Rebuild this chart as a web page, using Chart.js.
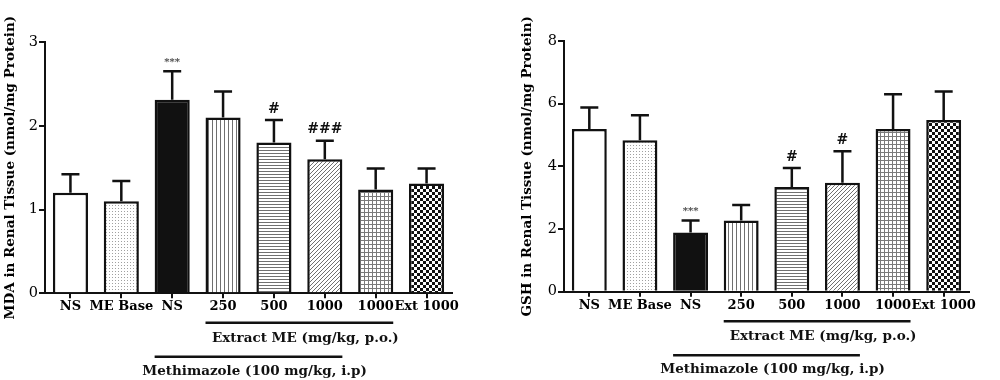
<!DOCTYPE html>
<html><head><meta charset="utf-8">
<script src="https://cdn.jsdelivr.net/npm/chart.js@4.4.1/dist/chart.umd.min.js"></script>
<style>
html,body{margin:0;padding:0;background:#fff;}
#wrap{position:relative;width:1000px;height:380px;overflow:hidden;}
.box{position:absolute;top:0;width:500px;height:380px;}
</style></head><body>
<div id="wrap">
<div class="box" style="left:0"><canvas id="c1"></canvas></div>
<div class="box" style="left:500px"><canvas id="c2"></canvas></div>
</div>
<script>
// ---- data ----
const categories = ["NS", "ME Base", "NS", "250", "500", "1000", "1000", "Ext 1000"];
const mdaValues = [1.20, 1.10, 2.31, 2.10, 1.80, 1.60, 1.24, 1.31];
const mdaErrors = [0.22, 0.24, 0.34, 0.31, 0.27, 0.22, 0.25, 0.18];
const mdaMarks = ["", "", "***", "", "#", "###", "", ""];
const mdaTicks = [0, 1, 2, 3];
const gshValues = [5.19, 4.83, 1.89, 2.27, 3.34, 3.48, 5.19, 5.48];
const gshErrors = [0.69, 0.80, 0.38, 0.50, 0.61, 1.00, 1.11, 0.91];
const gshMarks = ["", "", "***", "", "#", "#", "", ""];
const gshTicks = [0, 2, 4, 6, 8];
const mdaTitle = "MDA in Renal Tissue (nmol/mg Protein)";
const gshTitle = "GSH in Renal Tissue (nmol/mg Protein)";
const extractLabel = "Extract ME (mg/kg, p.o.)";
const methimazoleLabel = "Methimazole (100 mg/kg, i.p)";
const patternKinds = ["white", "dots", "black", "vlines", "hlines", "diag", "grid", "checker"];

const SERIF = "'DejaVu Serif', serif";
const INK = '#111111';

function makePattern(kind) {
  if (kind === 'white') return '#ffffff';
  if (kind === 'black') return INK;
  const c = document.createElement('canvas');
  const x = c.getContext('2d');
  let w = 4, h = 4;
  if (kind === 'dots') { w = h = 3; }
  if (kind === 'hlines') { w = 4; h = 3; }
  if (kind === 'checker') { w = h = 6; }
  c.width = w; c.height = h;
  x.fillStyle = '#ffffff'; x.fillRect(0, 0, w, h);
  switch (kind) {
    case 'dots': x.fillStyle = '#a0a0a0'; x.fillRect(1, 1, 1, 1); break;
    case 'vlines': x.fillStyle = '#707070'; x.fillRect(0, 0, 1, h); break;
    case 'hlines': x.fillStyle = '#707070'; x.fillRect(0, 0, w, 1); break;
    case 'diag': x.fillStyle = '#707070'; for (let i = 0; i < 4; i++) x.fillRect(i, 3 - i, 1, 1); break;
    case 'grid': x.fillStyle = '#7a7a7a'; x.fillRect(0, 0, w, 1); x.fillRect(0, 0, 1, h); break;
    case 'checker': x.fillStyle = INK; x.fillRect(0, 0, 3, 3); x.fillRect(3, 3, 3, 3); break;
  }
  return x.createPattern(c, 'repeat');
}

const decorPlugin = {
  id: 'decor',
  afterDatasetsDraw(chart) {
    const o = chart.options.plugins.decor;
    const ctx = chart.ctx;
    const meta = chart.getDatasetMeta(0);
    const ys = chart.scales.y;
    ctx.save();
    ctx.strokeStyle = INK; ctx.lineWidth = 2.5; ctx.lineCap = 'butt';
    meta.data.forEach((bar, i) => {
      const v = chart.data.datasets[0].data[i];
      const top = ys.getPixelForValue(v + o.errors[i]);
      ctx.beginPath();
      ctx.moveTo(bar.x, bar.y); ctx.lineTo(bar.x, top);
      ctx.moveTo(bar.x - 9, top); ctx.lineTo(bar.x + 9, top);
      ctx.stroke();
      const m = o.marks[i];
      if (m) {
        ctx.textAlign = 'center'; ctx.textBaseline = 'middle';
        if (m.startsWith('*')) { ctx.fillStyle = '#444'; ctx.font = "bold 10px " + SERIF; ctx.fillText(m, bar.x, top - 9); }
        else { ctx.fillStyle = INK; ctx.font = "bold 14px " + SERIF; ctx.fillText(m, bar.x, top - 11); }
      }
    });
    ctx.restore();
  },
  afterDraw(chart) {
    const ctx = chart.ctx;
    const d = chart.getDatasetMeta(0).data;
    const b = chart.chartArea.bottom;
    const edgeL = i => d[i].x - d[i].width / 2;
    const edgeR = i => d[i].x + d[i].width / 2;
    ctx.save();
    ctx.strokeStyle = INK; ctx.lineWidth = 2.5;
    ctx.fillStyle = INK; ctx.textAlign = 'center'; ctx.textBaseline = 'middle';
    ctx.font = "bold 13.5px " + SERIF;
    const groups = [
      { from: 3, to: 6, dy: 29.5, ty: 45, text: extractLabel },
      { from: 2, to: 5, dy: 63.5, ty: 78, text: methimazoleLabel }
    ];
    groups.forEach(g => {
      const x1 = edgeL(g.from), x2 = edgeR(g.to);
      ctx.beginPath(); ctx.moveTo(x1, b + g.dy); ctx.lineTo(x2, b + g.dy); ctx.stroke();
      ctx.fillText(g.text, (x1 + x2) / 2 + 6, b + g.ty);
    });
    ctx.restore();
  }
};

function build(id, values, errors, marks, ticks, title, opt) {
  const colors = patternKinds.map(makePattern);
  return new Chart(document.getElementById(id), {
    type: 'bar',
    data: {
      labels: categories,
      datasets: [{
        data: values,
        backgroundColor: colors,
        borderColor: INK,
        borderWidth: 2.5,
        barPercentage: 0.69,
        categoryPercentage: 1.0
      }]
    },
    plugins: [decorPlugin],
    options: {
      responsive: true, maintainAspectRatio: false, animation: false,
      devicePixelRatio: 1,
      layout: { padding: { top: opt.top, left: opt.left, right: opt.right, bottom: 0 } },
      plugins: {
        legend: { display: false }, tooltip: { enabled: false },
        decor: { errors: errors, marks: marks }
      },
      scales: {
        x: {
          offset: true,
          grid: { display: true, drawOnChartArea: false, drawTicks: true, tickLength: 5, color: INK, lineWidth: 2, offset: false },
          border: { display: true, color: INK, width: 2 },
          ticks: { color: '#000', font: { family: SERIF, weight: 'bold', size: 13 }, padding: 1, maxRotation: 0, autoSkip: false },
          afterFit(s) { s.height = opt.xh; }
        },
        y: {
          min: ticks[0], max: ticks[ticks.length - 1],
          afterBuildTicks(s) { s.ticks = ticks.map(v => ({ value: v })); },
          grid: { drawOnChartArea: false, drawTicks: true, tickLength: 6, color: INK, lineWidth: 2 },
          border: { display: true, color: INK, width: 2 },
          ticks: { color: '#000', font: { family: SERIF, size: 14.5 }, padding: 1 },
          title: { display: true, text: title, color: '#000', font: { family: SERIF, weight: 'bold', size: 13.5 }, padding: { top: 2, bottom: 0 } },
          afterFit(s) { s.width = opt.yw; }
        }
      }
    }
  });
}

build('c1', mdaValues, mdaErrors, mdaMarks, mdaTicks, mdaTitle, { top: 42, left: 0, right: 48, yw: 45, xh: 86.7 });
build('c2', gshValues, gshErrors, gshMarks, gshTicks, gshTitle, { top: 41, left: 17, right: 31, yw: 47, xh: 88.3 });
</script>
</body></html>
